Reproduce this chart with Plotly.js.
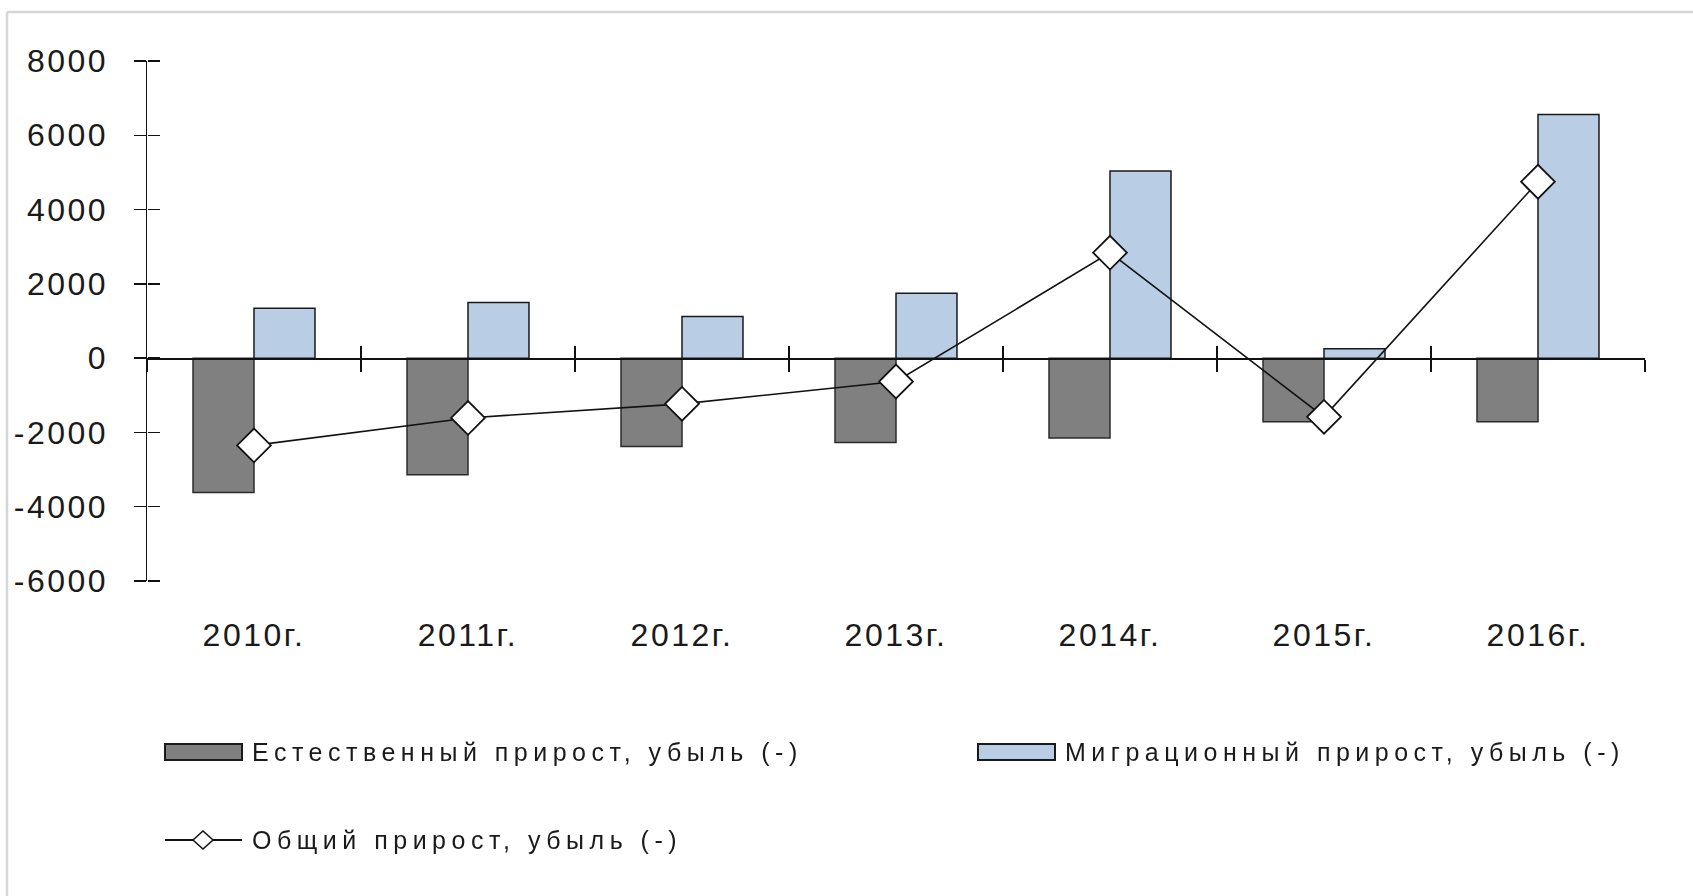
<!DOCTYPE html>
<html>
<head>
<meta charset="utf-8">
<script src="https://cdn.plot.ly/plotly-3.0.1.min.js"></script>
<style>
  html, body { margin: 0; padding: 0; background: #fff; }
  #chart { width: 1693px; height: 896px; }
  /* the source chart has wide letter spacing */
  .xtick text, .ytick text { letter-spacing: 2.5px; }
  .annotation-text { letter-spacing: 5.5px; }
</style>
</head>
<body>
<div id="chart"></div>
<script>
// categories and series
const years = ['2010г.', '2011г.', '2012г.', '2013г.', '2014г.', '2015г.', '2016г.'];
const naturalGrowth = [-3620, -3140, -2380, -2270, -2150, -1710, -1710];
const migrationGrowth = [1340, 1500, 1120, 1750, 5040, 250, 6560];
const totalGrowth = [-2350, -1610, -1230, -630, 2840, -1580, 4750];

// y axis ticks
const yTicks = [-6000, -4000, -2000, 0, 2000, 4000, 6000, 8000];
const yTickText = yTicks.map(String);

const seriesNames = [
    'Естественный прирост, убыль (-)',
    'Миграционный прирост, убыль (-)',
    'Общий прирост, убыль (-)',
];

const FONT = "'Liberation Sans', Arial, sans-serif";
const W = 1693, H = 896;
const M = { l: 147, r: 48, t: 61, b: 315 };
const plotW = W - M.l - M.r;
const plotH = H - M.t - M.b;

// pixel -> paper helpers (for frame and hand-drawn legend)
const px = x => (x - M.l) / plotW;
const py = y => (H - M.b - y) / plotH;

const yMin = yTicks[0];
const yMax = yTicks[yTicks.length - 1];
const xRange = [-0.5, years.length - 0.5];
const boundaries = years.map((_, i) => i - 0.5).concat([years.length - 0.5]);
const yearIdx = years.map((_, i) => i);

const traces = [
    {
        type: 'bar',
        x: years,
        y: naturalGrowth,
        name: seriesNames[0],
        marker: { color: '#808080', line: { color: '#2b2b2b', width: 1.5 } },
        hoverinfo: 'y',
    },
    {
        type: 'bar',
        x: years,
        y: migrationGrowth,
        name: seriesNames[1],
        marker: { color: '#b9cde5', line: { color: '#1a1a1a', width: 1.5 } },
        hoverinfo: 'y',
    },
    {
        type: 'scatter',
        mode: 'lines+markers',
        x: years,
        y: totalGrowth,
        name: seriesNames[2],
        line: { color: '#111', width: 1.6 },
        marker: { symbol: 'diamond', size: 26, color: '#fff', line: { color: '#111', width: 1.8 } },
        hoverinfo: 'y',
    },
];

// hidden helper traces so the overlay axes (crossing ticks) get drawn
[['x2', 'y'], ['x3', 'y'], ['x2', 'y2']].forEach(([xa, ya]) => traces.push({
    type: 'scatter', mode: 'markers', x: yearIdx, y: totalGrowth,
    xaxis: xa, yaxis: ya, opacity: 0, hoverinfo: 'skip', showlegend: false,
}));

// legend drawn by hand, to get the wide Excel style keys
const legendRows = [752, 840];
const shapes = [
    // frame edges (top and left only are visible in the source)
    { type: 'line', xref: 'paper', yref: 'paper', x0: px(7), x1: px(W), y0: py(12), y1: py(12),
      line: { color: '#d6d6d6', width: 2.5 } },
    { type: 'line', xref: 'paper', yref: 'paper', x0: px(7), x1: px(7), y0: py(12), y1: py(H),
      line: { color: '#d6d6d6', width: 2.5 } },
    // legend keys
    { type: 'rect', xref: 'paper', yref: 'paper', x0: px(165), x1: px(242), y0: py(744), y1: py(760),
      fillcolor: '#808080', line: { color: '#1a1a1a', width: 2 } },
    { type: 'rect', xref: 'paper', yref: 'paper', x0: px(978), x1: px(1055), y0: py(744), y1: py(760),
      fillcolor: '#b9cde5', line: { color: '#1a1a1a', width: 2 } },
    { type: 'line', xref: 'paper', yref: 'paper', x0: px(165), x1: px(242), y0: py(legendRows[1]), y1: py(legendRows[1]),
      line: { color: '#111', width: 2 } },
    { type: 'path', xref: 'paper', yref: 'paper',
      path: `M${px(193)},${py(840)} L${px(203)},${py(831)} L${px(213)},${py(840)} L${px(203)},${py(849)} Z`,
      fillcolor: '#fff', line: { color: '#111', width: 1.5 } },
];

const legendText = (text, x, y) => ({
    xref: 'paper', yref: 'paper', x: px(x), y: py(y),
    xanchor: 'left', yanchor: 'middle', showarrow: false,
    text, font: { family: FONT, size: 25, color: '#1a1a1a' },
});

const zeroPos = (0 - yMin) / (yMax - yMin);
const crossX = (ticks, line) => ({
    overlaying: 'x',
    anchor: 'free',
    position: zeroPos,
    range: xRange,
    tickvals: boundaries,
    ticks,
    ticklen: 12,
    tickwidth: 1.5,
    tickcolor: '#111',
    showline: line,
    linecolor: '#111',
    linewidth: 1.5,
    showticklabels: false,
    showgrid: false,
    zeroline: false,
});

const layout = {
    width: W,
    height: H,
    margin: M,
    paper_bgcolor: '#fff',
    plot_bgcolor: '#fff',
    font: { family: FONT, color: '#1a1a1a' },
    showlegend: false,
    barmode: 'group',
    bargap: 0.43,
    bargroupgap: 0,
    xaxis: {
        type: 'category',
        range: xRange,
        showline: false,
        showgrid: false,
        zeroline: false,
        ticks: '',
        ticklabelstandoff: 32,
        tickfont: { family: FONT, size: 32, color: '#1a1a1a' },
    },
    // zero line with crossing ticks at category boundaries
    xaxis2: crossX('outside', true),
    xaxis3: crossX('inside', false),
    yaxis: {
        range: [yMin, yMax],
        tickvals: yTicks,
        ticktext: yTickText,
        ticks: 'outside',
        ticklen: 12,
        tickwidth: 1.5,
        tickcolor: '#111',
        showline: true,
        linecolor: '#111',
        linewidth: 1.5,
        showgrid: false,
        zeroline: false,
        ticklabelstandoff: 19,
        tickfont: { family: FONT, size: 32, color: '#1a1a1a' },
    },
    // right-pointing half of the crossing y ticks
    yaxis2: {
        overlaying: 'y',
        side: 'right',
        anchor: 'free',
        position: 0,
        range: [yMin, yMax],
        tickvals: yTicks,
        ticks: 'outside',
        ticklen: 12,
        tickwidth: 1.5,
        tickcolor: '#111',
        showline: false,
        showticklabels: false,
        showgrid: false,
        zeroline: false,
    },
    shapes,
    annotations: [
        legendText(seriesNames[0], 250, legendRows[0]),
        legendText(seriesNames[1], 1063, legendRows[0]),
        legendText(seriesNames[2], 250, legendRows[1]),
    ],
};

Plotly.newPlot('chart', traces, layout, { displayModeBar: false, staticPlot: true });
</script>
</body>
</html>
